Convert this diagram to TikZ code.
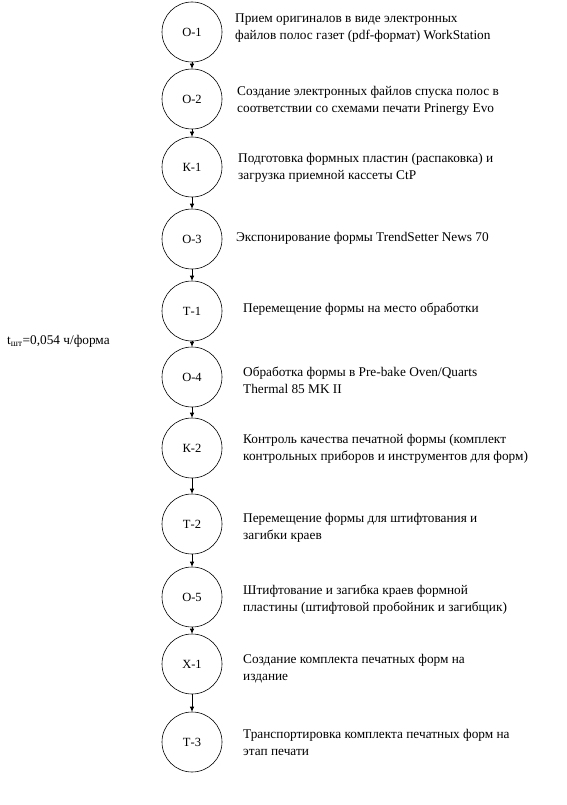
\documentclass[tikz,border=0pt]{standalone}
\usepackage{fontspec}
\setmainfont{Liberation Serif}
\usetikzlibrary{arrows.meta}
\begin{document}
\begin{tikzpicture}[x=1pt,y=-1pt,
  opnode/.style={draw, circle, line width=0.6pt, minimum size=60pt, inner sep=0pt, font=\fontsize{12.5}{15}\selectfont},
  desc/.style={anchor=west, align=left, inner sep=0pt, font=\fontsize{13.3}{17}\selectfont},
  flow/.style={line width=0.6pt, -{Latex[length=5pt,width=4.5pt]}}]
\useasboundingbox (0,0) rectangle (566,805);
\node[opnode] (o1) at (192,32) {О-1};
\node[opnode] (o2) at (192,99) {О-2};
\node[opnode] (k1) at (192,167) {К-1};
\node[opnode] (o3) at (192,239) {О-3};
\node[opnode] (t1) at (192,311) {Т-1};
\node[opnode] (o4) at (192,377) {О-4};
\node[opnode] (k2) at (192,448) {К-2};
\node[opnode] (t2) at (192,524) {Т-2};
\node[opnode] (o5) at (192,597) {О-5};
\node[opnode] (x1) at (192,664) {Х-1};
\node[opnode] (t3) at (192,742) {Т-3};
\foreach \a/\b in {o1/o2,o2/k1,k1/o3,o3/t1,t1/o4,o4/k2,k2/t2,t2/o5,o5/x1,x1/t3}
  \draw[flow] (\a) -- (\b);
\node[desc] (d1) at (235,28) {Прием оригиналов в виде электронных\\файлов полос газет (pdf-формат) WorkStation};
\node[desc] (d2) at (237,101) {Создание электронных файлов спуска полос в\\соответствии со схемами печати Prinergy Evo};
\node[desc] (d3) at (238,168) {Подготовка формных пластин (распаковка) и\\загрузка приемной кассеты CtP};
\node[desc] (d4) at (236,238) {Экспонирование формы TrendSetter News 70};
\node[desc] (d5) at (243,309) {Перемещение формы на место обработки};
\node[desc] (d6) at (243,380) {Обработка формы в Pre-bake Oven/Quarts\\Thermal 85 MK II};
\node[desc] (d7) at (243,449) {Контроль качества печатной формы (комплект\\контрольных приборов и инструментов для форм)};
\node[desc] (d8) at (243,528) {Перемещение формы для штифтования и\\загибки краев};
\node[desc] (d9) at (243,600) {Штифтование и загибка краев формной\\пластины (штифтовой пробойник и загибщик)};
\node[desc] (d10) at (243,669) {Создание комплекта печатных форм на\\издание};
\node[desc] (d11) at (243,742) {Транспортировка комплекта печатных форм на\\этап печати};
\node[desc] (tsht) at (7,341) {t\textsubscript{шт}=0,054 ч/форма};
\end{tikzpicture}
\end{document}
